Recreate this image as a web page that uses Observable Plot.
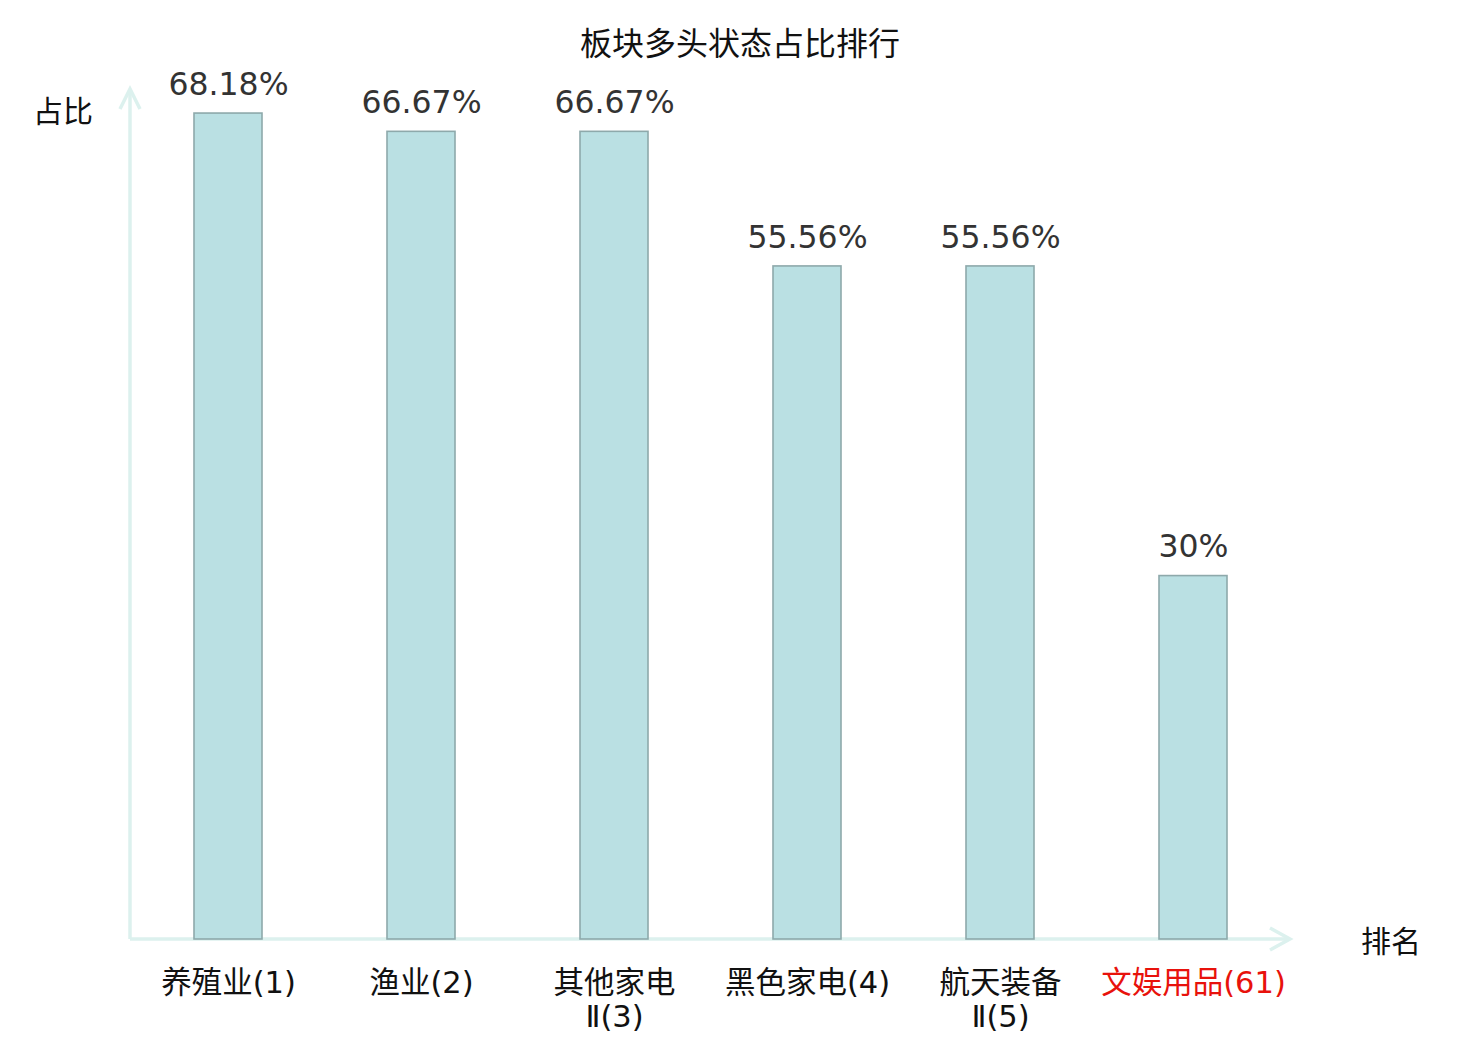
<!DOCTYPE html>
<html><head><meta charset="utf-8">
<script src="https://cdn.jsdelivr.net/npm/d3@7"></script>
<script src="https://cdn.jsdelivr.net/npm/@observablehq/plot@0.6"></script>
<style>
body{margin:0;background:#fff;}
#wrap{position:relative;width:1480px;height:1040px;}
#wrap svg{position:absolute;left:0;top:0;}
#title{position:absolute;left:0;width:1480px;top:25px;text-align:center;font:32px/32px "Noto Sans CJK SC",sans-serif;color:#111;z-index:2;}
</style></head><body>
<div id="wrap"><div id="title">板块多头状态占比排行</div></div>
<script>
const categories = ["养殖业(1)","渔业(2)","其他家电Ⅱ(3)","黑色家电(4)","航天装备Ⅱ(5)","文娱用品(61)"];
const tickLabels = ["养殖业(1)","渔业(2)","其他家电\nⅡ(3)","黑色家电(4)","航天装备\nⅡ(5)","文娱用品(61)"];
const values = [68.18, 66.67, 66.67, 55.56, 55.56, 30];
const highlight = "文娱用品(61)";
const yAxisTitle = "占比";
const xAxisTitle = "排名";

const data = categories.map((c, i) => ({name: c, label: tickLabels[i], value: values[i], valueLabel: `${values[i]}%`}));

const axisColor = "#dcf1ee";

function axes(index, scales, vals, dim) {
  const d = dim || {width: 1480, height: 1040, marginLeft: 130, marginRight: 190, marginTop: 91, marginBottom: 101};
  const x0 = d.marginLeft, y0 = d.height - d.marginBottom, x1 = d.width - d.marginRight, yT = d.marginTop - 2;
  const g = d3.create("svg:g");
  const a = g.append("g").attr("stroke", axisColor).attr("stroke-width", 3.5).attr("fill", "none");
  a.append("line").attr("x1", x0).attr("y1", y0).attr("x2", x0).attr("y2", yT);
  a.append("line").attr("x1", x0).attr("y1", y0).attr("x2", x1).attr("y2", y0);
  a.append("path").attr("d", `M${x0 - 10},${yT + 20}L${x0},${yT}L${x0 + 10},${yT + 20}`);
  a.append("path").attr("d", `M${x1 - 20},${y0 - 11}L${x1},${y0}L${x1 + -20},${y0 + 11}`);
  const t = g.append("g").attr("font-family", "'Noto Sans CJK SC', sans-serif").attr("font-size", 30).attr("fill", "#111");
  t.append("text").attr("x", x0 - 67).attr("y", yT + 33).attr("text-anchor", "middle").text(yAxisTitle);
  t.append("text").attr("x", x1 + 101).attr("y", y0 + 13).attr("text-anchor", "middle").text(xAxisTitle);
  return g.node();
}

const chart = Plot.plot({
  width: 1480,
  height: 1040,
  marginLeft: 130,
  marginRight: 190,
  marginTop: 91,
  marginBottom: 101,
  x: {domain: categories, paddingInner: 0.648, paddingOuter: 0.326, axis: null},
  y: {domain: [0, 70], axis: null},
  style: {fontFamily: "'Noto Sans CJK SC', sans-serif", background: "transparent", overflow: "visible"},
  marks: [
    axes,
    Plot.barY(data, {x: "name", y: "value", fill: "#bae0e3", stroke: "#8ea9ab", strokeWidth: 1.6}),
    Plot.text(data, {x: "name", y: "value", text: "valueLabel", dy: -29, fontSize: 31.5, fontFamily: "DejaVu Sans", fill: "#333"}),
    Plot.text(data, {x: "name", y: () => 0, text: "label", lineAnchor: "top", dy: 30, lineHeight: 1.1, fontSize: 30.5,
      fontFamily: "'DejaVu Sans', 'Noto Sans CJK SC', sans-serif",
      fill: d => d.name === highlight ? "#e8120c" : "#111"})
  ]
});
document.getElementById("wrap").appendChild(chart);
</script>
</body></html>
